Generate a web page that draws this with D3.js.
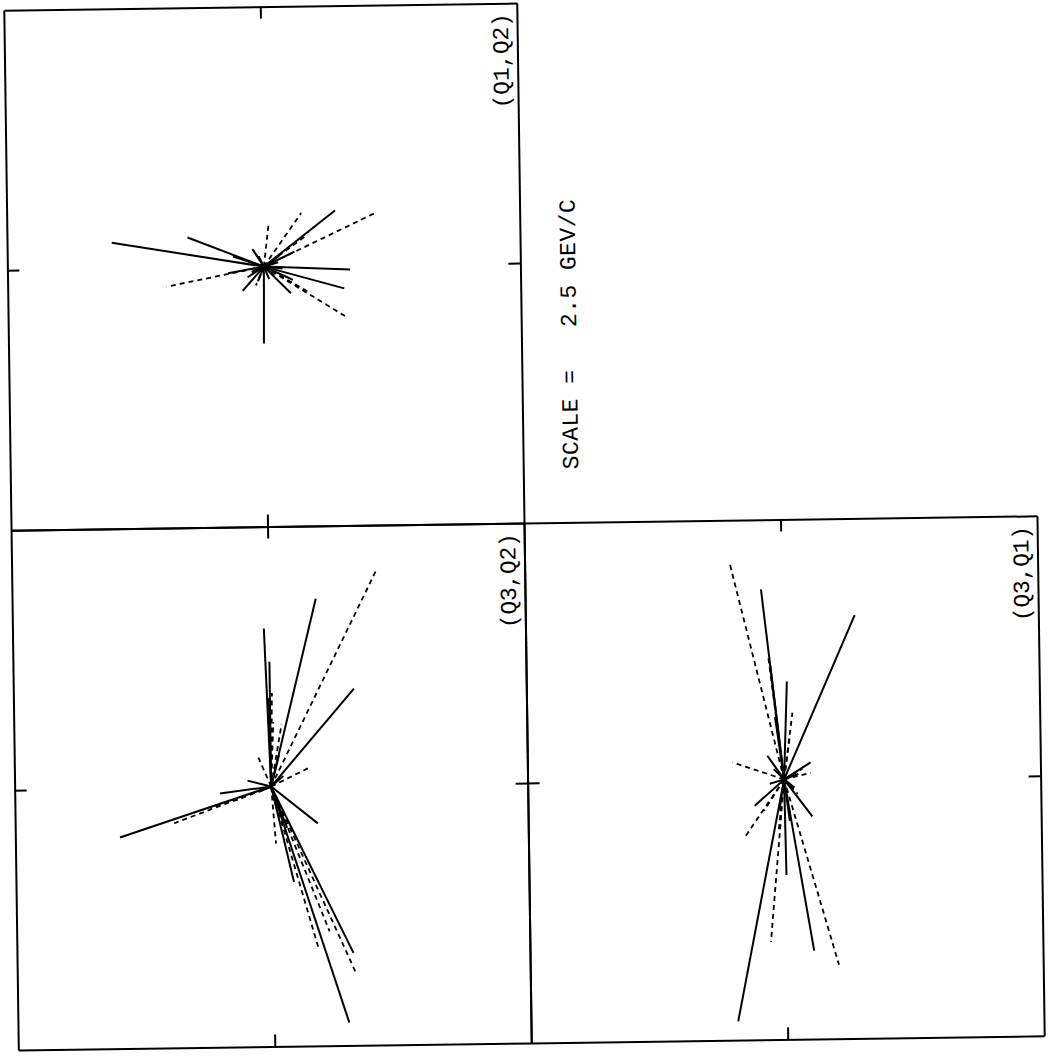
<!DOCTYPE html>
<html>
<head>
<meta charset="utf-8">
<script src="https://cdn.jsdelivr.net/npm/d3@7"></script>
<style>
  body { margin: 0; background: #fff; }
  svg { display: block; }
  text { font-family: "Liberation Mono", "DejaVu Sans Mono", monospace; white-space: pre; }
</style>
</head>
<body>
<div id="chart"></div>
<script>
// momentum scale of every panel, GeV/c (half width)
const scaleGeV = 2.5;
const panelLabels = ["(Q1,Q2)", "(Q3,Q2)", "(Q3,Q1)"];
const scaleText = "SCALE =   2.5 GEV/C";

// track end points [x, y, dashed] in GeV/c, all start at the origin
const tracksQ1Q2 = [
    [-1.48, 0.25, 0], [-0.74, 0.29, 0], [-0.95, -0.18, 1], [0.70, 0.53, 0],
    [1.09, 0.50, 1], [0.37, 0.51, 1], [0.05, 0.40, 1], [0.84, -0.04, 0],
    [0.78, -0.22, 0], [0.79, -0.49, 1], [0.26, -0.26, 0], [-0.01, -0.74, 0],
    [-0.21, -0.23, 0], [-0.10, 0.16, 1], [-0.08, -0.18, 1], [-0.11, 0.17, 0],
    [0.14, 0.04, 0], [-0.12, -0.05, 0], [0.10, -0.09, 0], [-0.05, 0.10, 0],
    [0.30, 0.14, 0], [-0.35, -0.06, 0], [0.28, -0.13, 0], [-0.30, 0.10, 0],
    [0.15, 0.10, 0], [0.18, -0.02, 0], [-0.15, 0.05, 0], [-0.06, -0.14, 0],
    [0.05, -0.12, 0], [-0.16, -0.10, 0], [0.40, 0.28, 1], [0.45, -0.26, 1]
];
const tracksQ3Q2 = [
    [-1.48, -0.47, 0], [-0.95, -0.34, 1], [-0.50, -0.06, 0], [-0.23, 0.06, 0],
    [-0.12, 0.28, 1], [-0.05, 1.52, 0], [0.00, 1.20, 0], [0.03, 0.62, 1],
    [0.11, 0.60, 1], [0.46, 1.80, 0], [1.05, 2.06, 1], [0.82, 0.93, 0],
    [0.36, 0.17, 1], [0.45, -0.36, 0], [0.04, -0.55, 1], [0.21, -0.92, 0],
    [0.44, -1.56, 1], [0.78, -1.61, 0], [0.80, -1.80, 1], [0.73, -2.28, 0],
    [0.55, -1.40, 1], [0.02, 0.90, 1], [-0.60, -0.20, 1], [0.15, -0.40, 0],
    [-0.01, 0.85, 0], [0.12, -0.30, 1], [0.08, 0.30, 0], [-0.12, -0.05, 0],
    [0.12, 0.10, 0], [0.05, -0.20, 0], [-0.35, -0.13, 1]
];
const tracksQ3Q1 = [
    [-0.50, 2.08, 1], [-0.20, 1.83, 0], [-0.14, 1.20, 1], [0.71, 1.57, 0],
    [0.04, 0.94, 0], [0.09, 0.64, 1], [-0.50, 0.17, 1], [-0.16, 0.23, 0],
    [0.26, 0.16, 0], [0.26, 0.06, 1], [-0.29, -0.25, 0], [-0.39, -0.55, 1],
    [0.27, -0.36, 0], [-0.48, -2.32, 0], [-0.15, -1.56, 1], [0.01, -0.92, 0],
    [0.27, -1.65, 0], [0.51, -1.79, 1], [0.13, -0.14, 1], [-0.06, -0.50, 1],
    [0.06, 0.40, 1], [-0.10, 0.10, 0], [0.10, -0.08, 0], [-0.12, 1.10, 0],
    [-0.08, 0.60, 0], [0.05, -0.40, 0], [-0.05, -0.30, 0], [0.14, 0.05, 0],
    [-0.14, -0.04, 0], [-0.20, -0.30, 1], [0.18, 0.10, 1]
];

class StarPanel {
    constructor(_config, _data) {
        this.config = {
            parent: _config.parent,
            x: _config.x,
            y: _config.y,
            width: _config.width,
            height: _config.height,
            label: _config.label
        }
        this.data = _data;
        this.initVis();
    }
    initVis() {
        let vis = this;
        let c = vis.config;

        vis.xScale = d3.scaleLinear()
            .domain([-scaleGeV, scaleGeV])
            .range([0, c.width]);
        vis.yScale = d3.scaleLinear()
            .domain([-scaleGeV, scaleGeV])
            .range([c.height, 0]);

        vis.g = c.parent.append('g')
            .attr('transform', `translate(${c.x},${c.y})`);

        // frame = four axes, one tick at zero pointing inward
        const tick = -12;
        const axes = [
            [d3.axisTop(vis.xScale), 0, 0],
            [d3.axisBottom(vis.xScale), 0, c.height],
            [d3.axisLeft(vis.yScale), 0, 0],
            [d3.axisRight(vis.yScale), c.width, 0]
        ];
        axes.forEach(([axis, tx, ty]) => {
            const a = vis.g.append('g')
                .attr('transform', `translate(${tx},${ty})`)
                .call(axis.tickValues([0]).tickSize(tick).tickSizeOuter(0).tickFormat(''));
            a.selectAll('path, line').attr('stroke', '#000').attr('stroke-width', 2);
        });

        // panel label, written sideways near the top right corner
        vis.g.append('text')
            .attr('transform', `translate(${c.width - 9},10) rotate(-90)`)
            .attr('text-anchor', 'end')
            .attr('font-size', 23)
            .attr('textLength', 95)
            .attr('lengthAdjust', 'spacing')
            .text(c.label);
    }
    renderVis() {
        let vis = this;
        vis.g.selectAll('line.track').data(vis.data)
            .join('line')
            .attr('class', 'track')
            .attr('x1', vis.xScale(0))
            .attr('y1', vis.yScale(0))
            .attr('x2', d => vis.xScale(d[0]))
            .attr('y2', d => vis.yScale(d[1]))
            .attr('stroke', '#000')
            .attr('stroke-width', d => d[2] ? 1.8 : 2)
            .attr('stroke-dasharray', d => d[2] ? '5,4' : null);
    }
}

const svg = d3.select('#chart').append('svg')
    .attr('width', 1051)
    .attr('height', 1060);

// the scanned sheet is turned a little
const W = 513, H = 520, cx = 524, cy = 523;
const page = svg.append('g')
    .attr('transform', `rotate(-0.8,${cx},${cy})`);

const panels = [
    new StarPanel({parent: page, x: cx - W, y: cy - H, width: W, height: H, label: panelLabels[0]}, tracksQ1Q2),
    new StarPanel({parent: page, x: cx - W, y: cy, width: W, height: H, label: panelLabels[1]}, tracksQ3Q2),
    new StarPanel({parent: page, x: cx, y: cy, width: W, height: H, label: panelLabels[2]}, tracksQ3Q1)
];
panels.forEach(p => p.renderVis());

page.append('text')
    .attr('transform', `translate(579,335) rotate(-90)`)
    .attr('text-anchor', 'middle')
    .attr('font-size', 23)
    .attr('textLength', 270)
    .attr('lengthAdjust', 'spacing')
    .text(scaleText);
</script>
</body>
</html>
